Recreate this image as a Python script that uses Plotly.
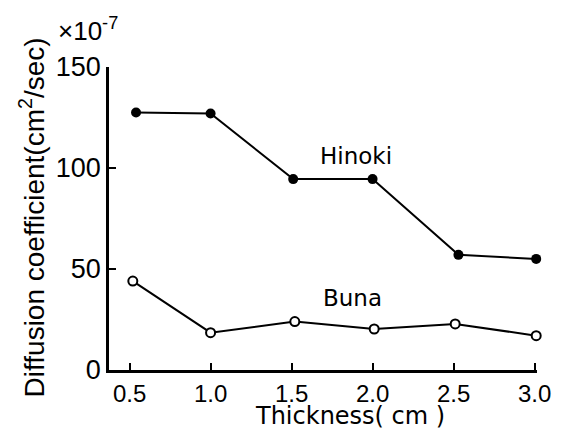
import plotly.graph_objects as go

thickness_hinoki = [0.54, 1.0, 1.51, 2.0, 2.53, 3.01]
hinoki = [127.5, 127, 94.5, 94.5, 57, 55]
thickness_buna = [0.52, 1.0, 1.52, 2.01, 2.51, 3.01]
buna = [44, 18.5, 24, 20.3, 22.8, 17]
x_ticks = [0.5, 1.0, 1.5, 2.0, 2.5, 3.0]
x_tick_labels = ["0.5", "1.0", "1.5", "2.0", "2.5", "3.0"]
y_ticks = [0, 50, 100, 150]

FONT = "Liberation Sans"

fig = go.Figure()
fig.add_trace(go.Scatter(
    x=thickness_hinoki, y=hinoki, mode="lines+markers",
    line=dict(color="black", width=2),
    marker=dict(color="black", size=10, symbol="circle"),
    cliponaxis=False, showlegend=False))
fig.add_trace(go.Scatter(
    x=thickness_buna, y=buna, mode="lines+markers",
    line=dict(color="black", width=2),
    marker=dict(color="white", size=9, symbol="circle",
                line=dict(color="black", width=2)),
    cliponaxis=False, showlegend=False))

X0, X1 = 0.373, 3.015
fig.update_layout(
    width=563, height=434,
    margin=dict(l=109, r=563 - 109 - round((X1 - X0) * 165.2), t=67, b=64),
    paper_bgcolor="white", plot_bgcolor="white",
    font=dict(family=FONT, color="black"),
    xaxis=dict(range=[X0, X1], tickvals=x_ticks, ticktext=x_tick_labels,
               ticks="inside", ticklen=7, tickwidth=2, tickcolor="black",
               showline=True, linecolor="black", linewidth=2.5,
               showgrid=False, zeroline=False,
               tickfont=dict(size=24, family=FONT)),
    yaxis=dict(range=[0, 150], tickvals=y_ticks,
               ticks="inside", ticklen=7, tickwidth=2, tickcolor="black",
               showline=True, linecolor="black", linewidth=2.5,
               showgrid=False, zeroline=False,
               tickfont=dict(size=27, family=FONT)),
)

fig.add_annotation(text="Thickness( cm )", xref="paper", yref="paper",
                   x=(354 - 109) / 436, y=-(432 - 370) / 303,
                   showarrow=False, font=dict(size=24, family="DejaVu Sans"),
                   xanchor="center", yanchor="bottom")
fig.add_annotation(text="Diffusion coefficient(cm<sup>2</sup>/sec)", xref="paper", yref="paper",
                   x=-(109 - 31) / 436, y=(370 - 217) / 303, textangle=-90,
                   showarrow=False, font=dict(size=28, family=FONT),
                   xanchor="center", yanchor="middle")
fig.add_annotation(text="×10<sup>-7</sup>", xref="paper", yref="paper",
                   x=-(109 - 88) / 436, y=(370 - 30) / 303,
                   showarrow=False, font=dict(size=26, family=FONT),
                   xanchor="center", yanchor="middle")
fig.add_annotation(text="Hinoki", x=1.9, y=106, showarrow=False,
                   font=dict(size=23, family="DejaVu Sans"),
                   xanchor="center", yanchor="middle")
fig.add_annotation(text="Buna", x=1.875, y=35.5, showarrow=False,
                   font=dict(size=23, family="DejaVu Sans"),
                   xanchor="center", yanchor="middle")

fig.write_html("out.html")
